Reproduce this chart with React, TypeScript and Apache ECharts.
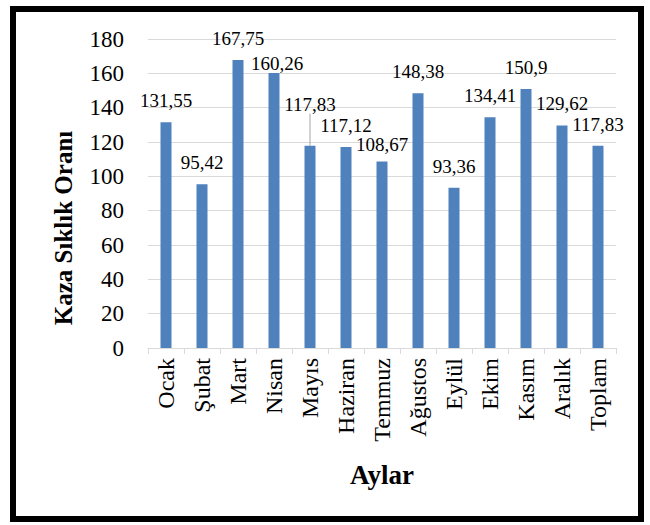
import React, { useEffect, useRef } from "react";
import * as echarts from "echarts";

const categories = ["Ocak", "Şubat", "Mart", "Nisan", "Mayıs", "Haziran", "Temmuz", "Ağustos", "Eylül", "Ekim", "Kasım", "Aralık", "Toplam"];
const values = [131.55, 95.42, 167.75, 160.26, 117.83, 117.12, 108.67, 148.38, 93.36, 134.41, 150.9, 129.62, 117.83];
const yAxisTitle = "Kaza Sıklık Oranı";
const xAxisTitle = "Aylar";

const SERIF = "Liberation Serif";

export default function App() {
  const ref = useRef<HTMLDivElement>(null);
  useEffect(() => {
    if (!ref.current) return;
    const chart = echarts.init(ref.current, null, { renderer: "svg" });
    const labelShift: Record<number, { dx: number; dy: number }> = {
      3: { dx: 3, dy: 12 },
      4: { dx: 0, dy: -20 },
      6: { dx: 0, dy: 5 },
    };
    chart.setOption({
      animation: false,
      backgroundColor: "#fff",
      textStyle: { fontFamily: SERIF },
      grid: { left: 148, right: 34, top: 39, bottom: 177 },
      graphic: [
        {
          type: "rect",
          shape: { x: 13, y: 9, width: 628, height: 510 },
          style: { fill: "none", stroke: "#000", lineWidth: 6 },
          z: 100,
        },
        {
          type: "text",
          x: 63,
          y: 228,
          rotation: Math.PI / 2,
          style: {
            text: yAxisTitle,
            font: "bold 25px Liberation Serif",
            fill: "#000",
            align: "center",
            verticalAlign: "middle",
          },
        },
      ],
      xAxis: {
        type: "category",
        data: categories,
        boundaryGap: true,
        name: xAxisTitle,
        nameLocation: "middle",
        nameGap: 113,
        nameTextStyle: { fontFamily: SERIF, fontSize: 27, fontWeight: "bold", color: "#000" },
        axisLine: { show: true, lineStyle: { color: "#d9d9d9", width: 1 } },
        axisTick: { show: true, length: 6, lineStyle: { color: "#d9d9d9" } },
        axisLabel: { rotate: 90, interval: 0, margin: 10, fontFamily: SERIF, fontSize: 24, color: "#000" },
      },
      yAxis: {
        type: "value",
        min: 0,
        max: 180,
        interval: 20,
        axisLine: { show: false },
        axisTick: { show: false },
        axisLabel: { margin: 24, fontFamily: SERIF, fontSize: 23, color: "#000" },
        splitLine: { lineStyle: { color: "#d9d9d9", width: 1 } },
      },
      series: [
        {
          type: "bar",
          barWidth: 11,
          itemStyle: { color: "#4f81bd" },
          data: values.map((v, i) =>
            i === 4
              ? { value: v, labelLine: { show: true, lineStyle: { color: "#a6a6a6", width: 1 } } }
              : { value: v }
          ),
          label: {
            show: true,
            position: "top",
            distance: 12,
            fontFamily: SERIF,
            fontSize: 19,
            color: "#000",
            formatter: (p: any) => String(p.value).replace(".", ","),
          },
          labelLine: { show: false },
          labelLayout: (params: any) => {
            const s = labelShift[params.dataIndex];
            return s ? { dx: s.dx, dy: s.dy } : {};
          },
        },
      ],
    });
    return () => chart.dispose();
  }, []);
  return <div ref={ref} style={{ position: "fixed", left: 0, top: 0, width: 650, height: 525 }} />;
}
